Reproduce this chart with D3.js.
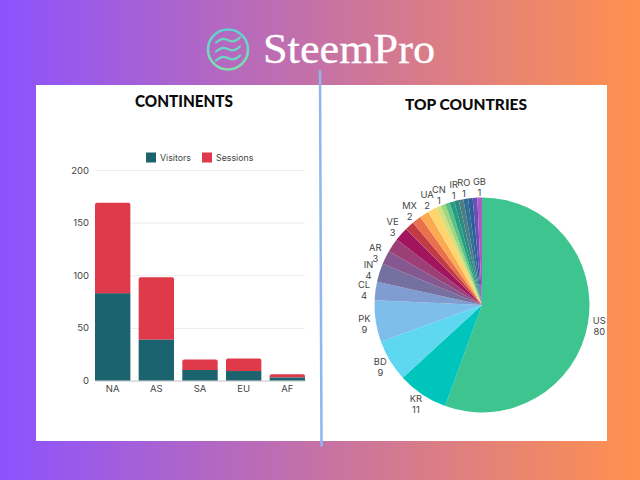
<!DOCTYPE html>
<html>
<head>
<meta charset="utf-8">
<script src="https://cdn.jsdelivr.net/npm/d3@7"></script>
<style>
    html, body { margin: 0; padding: 0; background: #fff; }
    svg { display: block; }
    text { font-family: Inter, "Open Sans", sans-serif; }
</style>
</head>
<body>
<div id="chart"></div>
<script>
const continents = ["NA", "AS", "SA", "EU", "AF"];
const visitors = [83, 39, 10, 9, 3];
const sessions = [86, 59, 10, 12, 3];
const yTicks = [0, 50, 100, 150, 200];

// slices run clockwise from 12 o'clock, blank names have no label in the picture
const countries = ["US", "KR", "BD", "PK", "CL", "IN", "AR", "", "VE", "", "MX", "", "UA", "", "CN", "", "", "IR", "", "RO", "", "", "GB"];
const countryValues = [80, 11, 9, 9, 4, 4, 3, 3, 3, 2, 2, 2, 2, 1, 1, 1, 1, 1, 1, 1, 1, 1, 1];
const countryColors = ["#3dc48f", "#00c5bd", "#5dd8f0", "#7dbfea", "#7f9dd0", "#75709f", "#85598f", "#9c3f76", "#a1155f", "#c23a46", "#e8704c", "#fba953", "#ffd56e", "#d2e07f", "#a0d680", "#5cbf85", "#1f9f80", "#2e8a80", "#4b7f85", "#2f6f95", "#2e5f9b", "#6a4fb5", "#ad5ac8"];

const width = 640;
const height = 480;

const svg = d3.select("#chart").append("svg")
    .attr("width", width)
    .attr("height", height);
const defs = svg.append("defs");

const bg = defs.append("linearGradient").attr("id", "bg");
bg.append("stop").attr("offset", "0%").attr("stop-color", "#8c52ff");
bg.append("stop").attr("offset", "100%").attr("stop-color", "#ff914d");

const ring = defs.append("linearGradient").attr("id", "ring")
    .attr("x1", 0).attr("y1", 0).attr("x2", 0).attr("y2", 1);
ring.append("stop").attr("offset", "0%").attr("stop-color", "#5fd0cf");
ring.append("stop").attr("offset", "100%").attr("stop-color", "#7fe0a8");

svg.append("rect").attr("width", width).attr("height", height).attr("fill", "url(#bg)");
svg.append("rect").attr("x", 36).attr("y", 85).attr("width", 571).attr("height", 356).attr("fill", "#fff");

// logo
const logo = svg.append("g").attr("transform", "translate(228,49.5)")
    .attr("fill", "none").attr("stroke", "url(#ring)").attr("stroke-linecap", "round");
logo.append("circle").attr("r", 20).attr("stroke-width", 2.6);
logo.append("g").attr("stroke", "#6cd6c0").attr("stroke-width", 2.2)
    .selectAll("path").data([-9, 0, 9]).enter().append("path")
    .attr("d", d => `M-12,${d + 2} C-6,${d - 3} -3,${d - 2} 1,${d} C5,${d + 2} 8,${d + 1} 12,${d - 3}`);

svg.append("text")
    .attr("x", 263).attr("y", 63)
    .attr("textLength", 172)
    .attr("lengthAdjust", "spacingAndGlyphs")
    .style("font-family", '"Liberation Serif", serif')
    .style("font-size", "42px")
    .attr("fill", "#fff")
    .attr("stroke", "#fff")
    .attr("stroke-width", 0.3)
    .text("SteemPro");

// titles
const title = (cx, baseline, size, len, label) => svg.append("text")
    .attr("x", cx).attr("y", baseline)
    .attr("text-anchor", "middle")
    .attr("textLength", len)
    .attr("lengthAdjust", "spacingAndGlyphs")
    .style("font-family", 'Lato, sans-serif')
    .style("font-size", size + "px")
    .style("font-weight", 900)
    .attr("fill", "#0b0b0b")
    .text(label);
title(184, 107, 16.5, 98, "CONTINENTS");
title(466, 110, 15.5, 122, "TOP COUNTRIES");

// stacked bars
const x = d3.scaleBand().domain(continents).range([95, 305]).paddingInner(0.19).paddingOuter(0);
const y = d3.scaleLinear().domain([0, 200]).range([380.5, 170]);

const yAxis = svg.append("g")
    .attr("transform", "translate(95,0)")
    .call(d3.axisLeft(y).tickValues(yTicks).tickSize(-210).tickPadding(6));
yAxis.select(".domain").remove();
yAxis.selectAll("line").attr("stroke", "#ececec");
yAxis.selectAll("text").attr("fill", "#444").style("font-size", "9.5px");

const xAxis = svg.append("g")
    .attr("transform", "translate(0,380.5)")
    .call(d3.axisBottom(x).tickSize(0).tickPadding(5));
xAxis.select(".domain").attr("stroke", "#ccc");
xAxis.selectAll("text").attr("fill", "#444").style("font-size", "9.5px");

svg.append("g").selectAll("rect").data(continents).enter().append("rect")
    .attr("x", d => x(d))
    .attr("width", x.bandwidth())
    .attr("y", (d, i) => y(visitors[i]))
    .attr("height", (d, i) => y(0) - y(visitors[i]))
    .attr("fill", "#1c6370");

const topBar = (left, top, w, h, r) =>
    `M${left},${top + h}V${top + r}Q${left},${top} ${left + r},${top}H${left + w - r}Q${left + w},${top} ${left + w},${top + r}V${top + h}Z`;

svg.append("g").selectAll("path").data(continents).enter().append("path")
    .attr("d", (d, i) => {
        const top = y(visitors[i] + sessions[i]);
        return topBar(x(d), top, x.bandwidth(), y(visitors[i]) - top, 2);
    })
    .attr("fill", "#de3a4a");

// legend
const legend = svg.append("g").selectAll("g")
    .data([["Visitors", "#1c6370", 146], ["Sessions", "#de3a4a", 202]])
    .enter().append("g")
    .attr("transform", d => `translate(${d[2]},152.5)`);
legend.append("rect").attr("width", 10).attr("height", 10).attr("fill", d => d[1]);
legend.append("text")
    .attr("x", 14).attr("y", 8.5)
    .attr("fill", "#444")
    .style("font-size", "8.8px")
    .text(d => d[0]);

// pie
const pie = d3.pie().sort(null).value(d => d);
const arc = d3.arc().innerRadius(0).outerRadius(107.5);
const labelArc = d3.arc().innerRadius(119).outerRadius(119);
const arcs = pie(countryValues);

const pieG = svg.append("g").attr("transform", "translate(482,305)");
pieG.selectAll("path").data(arcs).enter().append("path")
    .attr("d", arc)
    .attr("fill", (d, i) => countryColors[i]);

const labels = pieG.selectAll("text").data(arcs.filter((d, i) => countries[i])).enter().append("text")
    .attr("transform", d => `translate(${labelArc.centroid(d)})`)
    .attr("text-anchor", "middle")
    .attr("fill", "#444")
    .style("font-size", "9.3px");
labels.append("tspan").attr("x", 0).attr("y", -1.5).text(d => countries[d.index]);
labels.append("tspan").attr("x", 0).attr("y", 9.5).text(d => d.data);

// divider
svg.append("line")
    .attr("x1", 320).attr("x2", 321.5).attr("y1", 70).attr("y2", 446.5)
    .attr("stroke", "#8fb6ee").attr("stroke-width", 2.5);
</script>
</body>
</html>
